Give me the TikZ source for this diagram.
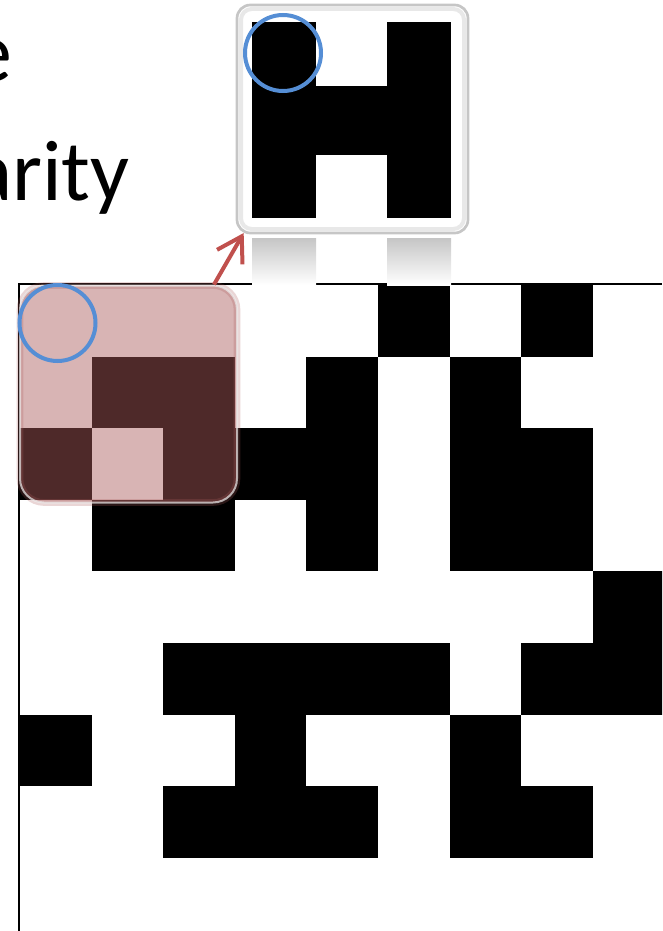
\documentclass[tikz,border=0pt]{standalone}
\usepackage{fontspec}
\setmainfont{Carlito}
\usetikzlibrary{arrows.meta, positioning}
\definecolor{patchred}{RGB}{170,91,91}
\definecolor{arrowred}{RGB}{192,80,77}
\definecolor{ringblue}{RGB}{85,142,213}

\begin{document}
\begin{tikzpicture}[x=0.75pt, y=-0.75pt,
  cell/.style={fill=black},
  patch/.style={
    rectangle, rounded corners=18pt, inner sep=0pt,
    minimum width=162.75pt, minimum height=162.75pt,
    fill=patchred, fill opacity=0.46,
    draw=white!85!gray, draw opacity=0.7, line width=1.5pt,
    preaction={draw=patchred, draw opacity=0.25, line width=5pt}
  },
  tmpl/.style={
    rectangle, rounded corners=10pt, inner sep=0pt,
    minimum width=173.25pt, minimum height=171pt,
    fill=white, draw=gray!45, line width=2pt
  },
  ring/.style={circle, draw=ringblue, line width=3pt, minimum size=57pt, inner sep=0pt},
  arrow/.style={-{Straight Barb[length=18pt,width=22pt]}, line width=3pt, arrowred},
  bigtext/.style={font=\fontsize{64.5}{77}\selectfont, inner sep=0pt, anchor=base east}
]
  \useasboundingbox (0,0) rectangle (662,931);
  \clip (0,0) rectangle (662,931);

  % binary image
  \foreach \c/\r in {5/0,7/0, 1/1,2/1,4/1,6/1, 0/2,2/2,3/2,4/2,6/2,7/2,
                     1/3,2/3,4/3,6/3,7/3, 8/4, 2/5,3/5,4/5,5/5,7/5,8/5,
                     0/6,3/6,6/6, 2/7,3/7,4/7,6/7,7/7}
    \fill[cell] ({20+\c*71.6},{285+\r*71.6}) rectangle ++(71.6,71.6);
  \draw[line width=1.5pt] (19,931) -- (19,284) -- (662,284);

  % search window
  \node[patch] (patch) at (128.5,394) {};
  \node[ring] (ringP) at (57.5,323) {};

  % template
  \node[tmpl] (tmpl) at (352.5,119) {};
  \draw[gray!18, line width=3pt, rounded corners=8pt] (241,9) rectangle (464,229);
  \fill[cell] (252,22) rectangle (316,218);
  \fill[cell] (387,22) rectangle (451,218);
  \fill[cell] (316,86) rectangle (387,155);
  \node[ring] (ringT) at (283,53) {};
  \shade[top color=gray!45, bottom color=white] (252,238) rectangle (316,285);
  \shade[top color=gray!45, bottom color=white] (387,238) rectangle (451,285);

  \draw[arrow] ([xshift=-18pt]patch.north east) -- ([xshift=6pt,yshift=1pt]tmpl.south west);

  \node[bigtext] (lineA) at (13,81) {e};
  \node[bigtext] (lineB) at (130,200) {arity};
\end{tikzpicture}
\end{document}
